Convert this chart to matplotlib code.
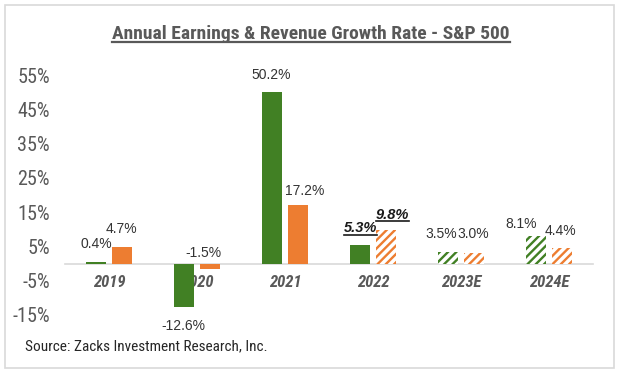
import matplotlib
matplotlib.use("Agg")
import matplotlib.pyplot as plt
from matplotlib.patches import Rectangle
from matplotlib.lines import Line2D
import numpy as np

# ---- data ----
categories = ["2019", "2020", "2021", "2022", "2023E", "2024E"]
earnings = [0.4, -12.6, 50.2, 5.3, 3.5, 8.1]
revenue = [4.7, -1.5, 17.2, 9.8, 3.0, 4.4]
estimate = [False, False, False, False, True, True]   # hatched earnings
rev_hatched = [False, False, False, True, True, True]  # hatched revenue
highlight = [False, False, False, True, False, False]  # bold/underlined labels
yticks = [55, 45, 35, 25, 15, 5, -5, -15]
title = "Annual Earnings & Revenue Growth Rate - S&P 500"
source = "Source: Zacks Investment Research, Inc."

# ---- styles / label placement (pixels from bar tip) ----
GREEN = "#418024"
ORANGE = "#ED7D31"
GRAY = "#595959"
earn_off = [(0, 18), (-1, -19.5), (-1, 17), (0, 17), (-7, 17.5), (-15.5, 12)]
rev_off = [(0, 18), (-6.5, 15.6), (7, 14), (7, 15), (-1, 19), (-1, 17.5)]

NARROW = ["Roboto Condensed", "PT Sans Narrow", "Liberation Sans", "DejaVu Sans"]
REG = ["Liberation Sans", "DejaVu Sans"]

plt.rcParams["hatch.linewidth"] = 1.7

fig = plt.figure(figsize=(6.2, 3.77), dpi=100)
fig.patch.set_facecolor("white")

# outer frame
fig.patches.append(Rectangle((5 / 620, 1 - 368 / 377), 609 / 620, 363 / 377,
                             transform=fig.transFigure, fill=False,
                             edgecolor="#d9d9d9", linewidth=1.2))

ax = fig.add_axes([65 / 620, 1 - 325.1 / 377, 528 / 620, 260 / 377])
ax.set_xlim(-0.5, len(categories) - 0.5)
ax.set_ylim(-18, 58)

x = np.arange(len(categories))
w = 0.227
off = 0.145

for i in range(len(categories)):
    if estimate[i]:
        ax.bar(x[i] - off, earnings[i], w, color="white", edgecolor=GREEN,
               hatch="////", linewidth=0, zorder=2)
    else:
        ax.bar(x[i] - off, earnings[i], w, color=GREEN, linewidth=0, zorder=2)
    if rev_hatched[i]:
        ax.bar(x[i] + off, revenue[i], w, color="white", edgecolor=ORANGE,
               hatch="////", linewidth=0, zorder=2)
    else:
        ax.bar(x[i] + off, revenue[i], w, color=ORANGE, linewidth=0, zorder=2)

underline_texts = []
for i in range(len(categories)):
    for xv, v, o in ((x[i] - off, earnings[i], earn_off[i]),
                     (x[i] + off, revenue[i], rev_off[i])):
        if highlight[i]:
            t = ax.annotate(f"{v:.1f}%", (xv, v), xytext=o,
                            textcoords="offset pixels", ha="center", va="center",
                            fontsize=10.5, fontweight="bold", fontstyle="italic",
                            color="#1a1a1a", family=REG, zorder=5)
            underline_texts.append(t)
        else:
            ax.annotate(f"{v:.1f}%", (xv, v), xytext=o,
                        textcoords="offset pixels", ha="center", va="center",
                        fontsize=10, color="#333333", family=REG, zorder=5)

# axes styling
for s in ("left", "right", "top"):
    ax.spines[s].set_visible(False)
ax.spines["bottom"].set_position(("data", 0))
ax.spines["bottom"].set_color("#d9d9d9")
ax.spines["bottom"].set_linewidth(1.2)
ax.spines["bottom"].set_zorder(1)

ax.set_yticks(yticks)
ax.set_yticklabels([f"{t}%" for t in yticks], family=NARROW, fontsize=14.5,
                   color=GRAY)
ax.tick_params(axis="y", length=0, pad=11)
ax.set_xticks(x)
ax.set_xticklabels(categories, family=NARROW, fontsize=12, fontweight="bold",
                   fontstyle="italic", color=GRAY)
ax.tick_params(axis="x", length=0, pad=8)
for lbl in ax.get_xticklabels():
    lbl.set_zorder(6)

# title
tt = fig.text(311 / 620, 1 - 39 / 377, title, ha="center", va="baseline",
              family=NARROW, fontsize=14, fontweight="bold", color=GRAY)

fig.text(25 / 620, 1 - 346 / 377, source, ha="left", va="center",
         family=NARROW, fontsize=11, color="#262626")

# underlines computed from rendered text extents
fig.canvas.draw()
renderer = fig.canvas.get_renderer()
H = fig.bbox.height
Wd = fig.bbox.width


def underline(t, gap, lw, color):
    bb = t.get_window_extent(renderer)
    y = (bb.y0 - gap) / H
    fig.add_artist(Line2D([bb.x0 / Wd, bb.x1 / Wd], [y, y],
                          transform=fig.transFigure, color=color, linewidth=lw))


underline(tt, -1, 1.6, GRAY)
for t in underline_texts:
    underline(t, -0.5, 1.2, "#1a1a1a")

fig.savefig("out.png", dpi=100, facecolor="white")
